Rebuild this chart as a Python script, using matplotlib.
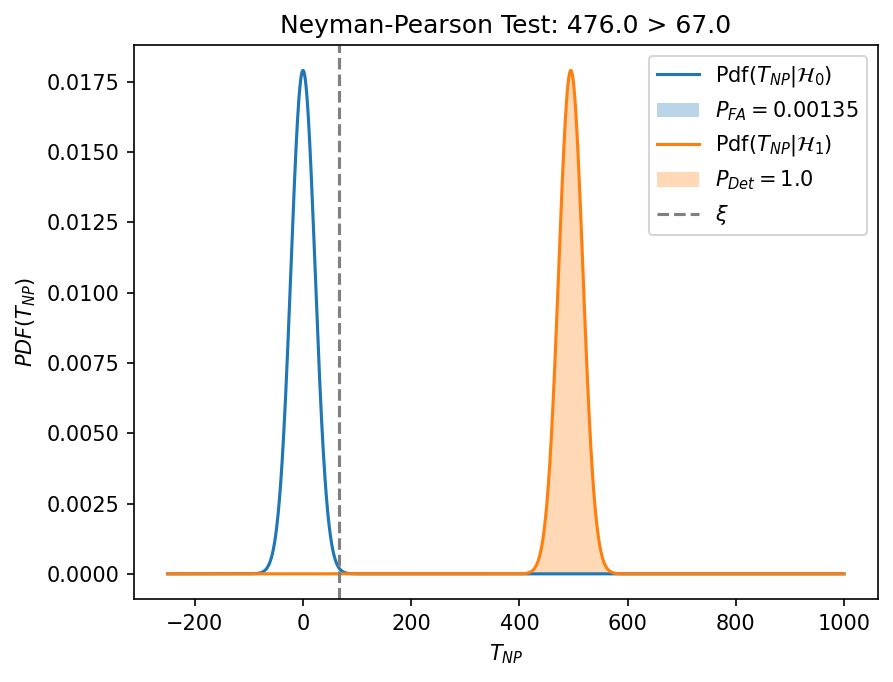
import numpy as np
import matplotlib
matplotlib.use('Agg')
import matplotlib.pyplot as plt

# test parameters
mean_h0 = 0.0
mean_h1 = 495.0
variance = 497.0
threshold = 67.0
statistic = 476.0
p_fa = 0.00135
p_det = 1.0
t_min, t_max = -250, 1000


def pdf(t, mu, var):
    return np.exp(-(t - mu) ** 2 / (2 * var)) / np.sqrt(2 * np.pi * var)


t = np.linspace(t_min, t_max, 2000)
pdf0 = pdf(t, mean_h0, variance)
pdf1 = pdf(t, mean_h1, variance)
tail = t >= threshold

fig = plt.figure(figsize=(893 / 150, 682 / 150), dpi=150)
ax = fig.add_subplot(111)
fig.subplots_adjust(left=0.150, right=0.983, top=0.9336, bottom=0.1217)

ax.plot(t, pdf0, color='tab:blue', label=r'Pdf($T_{NP}|\mathcal{H}_0$)')
ax.fill_between(t[tail], pdf0[tail], color='tab:blue', alpha=0.3, linewidth=0,
                label=r'$P_{FA} = $' + str(p_fa))
ax.plot(t, pdf1, color='tab:orange', label=r'Pdf($T_{NP}|\mathcal{H}_1$)')
ax.fill_between(t[tail], pdf1[tail], color='tab:orange', alpha=0.3, linewidth=0,
                label=r'$P_{Det} = $' + str(p_det))
ax.axvline(threshold, color='grey', linestyle='--', label=r'$\xi$')

ax.set_title('Neyman-Pearson Test: %.1f > %.1f' % (statistic, threshold))
ax.set_xlabel(r'$T_{NP}$')
ax.set_ylabel(r'$PDF(T_{NP})$')
ax.legend(loc='upper right')

fig.savefig('out.png', dpi=150)
